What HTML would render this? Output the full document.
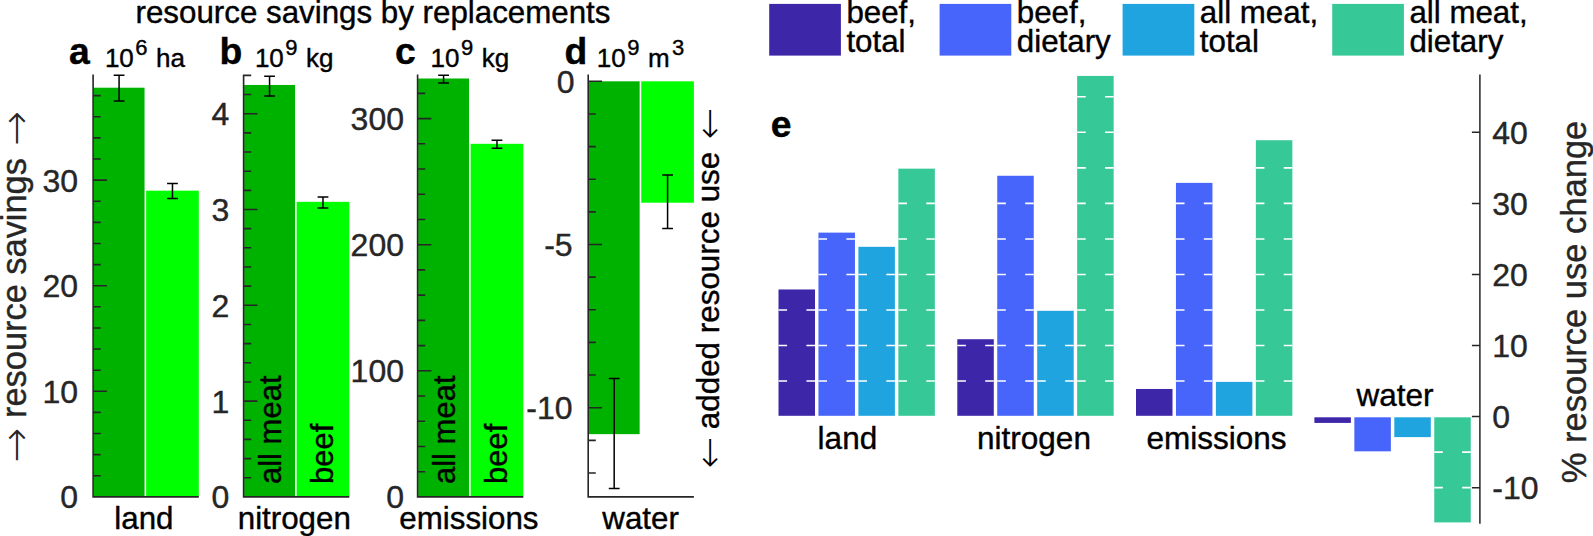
<!DOCTYPE html>
<html><head><meta charset="utf-8"><title>resource savings by replacements</title>
<style>html,body{margin:0;padding:0;background:#fff;overflow:hidden}svg{display:block}text{white-space:pre;stroke-width:0.4px;stroke-linejoin:round}text:not([stroke]){stroke:#000}</style>
</head><body>
<svg width="1593" height="536" viewBox="0 0 1593 536" font-family='"Liberation Sans", "DejaVu Sans", sans-serif'>
<rect width="1593" height="536" fill="#fff"/>
<text x="373" y="22.8" font-size="31.3" text-anchor="middle">resource savings by replacements</text>
<g id="panel-a">
<rect x="93.6" y="87.7" width="50.95" height="409.2" fill="#00B200"/>
<rect x="146.15" y="190.66" width="52.65" height="306.24" fill="#00FF00"/>
<path d="M93.1 496.9h13M93.1 475.78h6.8M93.1 454.66h6.8M93.1 433.54h6.8M93.1 412.42h6.8M93.1 391.3h13M93.1 370.18h6.8M93.1 349.06h6.8M93.1 327.94h6.8M93.1 306.82h6.8M93.1 285.7h13M93.1 264.58h6.8M93.1 243.46h6.8M93.1 222.34h6.8M93.1 201.22h6.8M93.1 180.1h13M93.1 158.98h6.8M93.1 137.86h6.8M93.1 116.74h6.8M93.1 95.62h6.8M93.1 75.3V496.9H198" stroke="#262626" stroke-width="1.6" fill="none" stroke-linecap="square"/>
<text x="78" y="508.3" font-size="32" text-anchor="end" fill="#262626" stroke="#262626">0</text>
<text x="78" y="402.7" font-size="32" text-anchor="end" fill="#262626" stroke="#262626">10</text>
<text x="78" y="297.1" font-size="32" text-anchor="end" fill="#262626" stroke="#262626">20</text>
<text x="78" y="191.5" font-size="32" text-anchor="end" fill="#262626" stroke="#262626">30</text>
<path d="M113.67 75.2H124.48M113.67 101H124.48M119.08 75.2V101" stroke="#000" stroke-width="1.5" fill="none"/>
<path d="M167.08 183.6H177.88M167.08 198.6H177.88M172.48 183.6V198.6" stroke="#000" stroke-width="1.5" fill="none"/>
</g>
<g id="panel-b">
<rect x="244.1" y="84.96" width="50.95" height="411.94" fill="#00B200"/>
<rect x="296.65" y="201.84" width="52.65" height="295.06" fill="#00FF00"/>
<path d="M243.6 496.9h13M243.6 477.74h6.8M243.6 458.58h6.8M243.6 439.42h6.8M243.6 420.26h6.8M243.6 401.1h13M243.6 381.94h6.8M243.6 362.78h6.8M243.6 343.62h6.8M243.6 324.46h6.8M243.6 305.3h13M243.6 286.14h6.8M243.6 266.98h6.8M243.6 247.82h6.8M243.6 228.66h6.8M243.6 209.5h13M243.6 190.34h6.8M243.6 171.18h6.8M243.6 152.02h6.8M243.6 132.86h6.8M243.6 113.7h13M243.6 94.54h6.8M243.6 75.38h6.8M243.6 75.3V496.9H348.5" stroke="#262626" stroke-width="1.6" fill="none" stroke-linecap="square"/>
<text x="229.3" y="508.3" font-size="32" text-anchor="end" fill="#262626" stroke="#262626">0</text>
<text x="229.3" y="412.5" font-size="32" text-anchor="end" fill="#262626" stroke="#262626">1</text>
<text x="229.3" y="316.7" font-size="32" text-anchor="end" fill="#262626" stroke="#262626">2</text>
<text x="229.3" y="220.9" font-size="32" text-anchor="end" fill="#262626" stroke="#262626">3</text>
<text x="229.3" y="125.1" font-size="32" text-anchor="end" fill="#262626" stroke="#262626">4</text>
<path d="M264.18 76.2H274.97M264.18 96H274.97M269.57 76.2V96" stroke="#000" stroke-width="1.5" fill="none"/>
<path d="M317.58 197H328.38M317.58 208H328.38M322.98 197V208" stroke="#000" stroke-width="1.5" fill="none"/>
</g>
<g id="panel-c">
<rect x="418.1" y="78.5" width="50.95" height="418.4" fill="#00B200"/>
<rect x="470.65" y="143.82" width="52.65" height="353.08" fill="#00FF00"/>
<path d="M417.6 496.9h13M417.6 471.68h6.8M417.6 446.46h6.8M417.6 421.24h6.8M417.6 396.02h6.8M417.6 370.8h13M417.6 345.58h6.8M417.6 320.36h6.8M417.6 295.14h6.8M417.6 269.92h6.8M417.6 244.7h13M417.6 219.48h6.8M417.6 194.26h6.8M417.6 169.04h6.8M417.6 143.82h6.8M417.6 118.6h13M417.6 93.38h6.8M417.6 75.3V496.9H522.5" stroke="#262626" stroke-width="1.6" fill="none" stroke-linecap="square"/>
<text x="404" y="508.3" font-size="32" text-anchor="end" fill="#262626" stroke="#262626">0</text>
<text x="404" y="382.2" font-size="32" text-anchor="end" fill="#262626" stroke="#262626">100</text>
<text x="404" y="256.1" font-size="32" text-anchor="end" fill="#262626" stroke="#262626">200</text>
<text x="404" y="130" font-size="32" text-anchor="end" fill="#262626" stroke="#262626">300</text>
<path d="M438.18 75.2H448.98M438.18 83H448.98M443.58 75.2V83" stroke="#000" stroke-width="1.5" fill="none"/>
<path d="M491.58 140.2H502.38M491.58 148.3H502.38M496.98 140.2V148.3" stroke="#000" stroke-width="1.5" fill="none"/>
</g>
<g id="panel-d">
<rect x="588.7" y="81.3" width="50.95" height="352.84" fill="#00B200"/>
<rect x="641.25" y="81.3" width="52.65" height="121.42" fill="#00FF00"/>
<path d="M588.2 472.98h6.8M588.2 440.34h6.8M588.2 407.7h13M588.2 375.06h6.8M588.2 342.42h6.8M588.2 309.78h6.8M588.2 277.14h6.8M588.2 244.5h13M588.2 211.86h6.8M588.2 179.22h6.8M588.2 146.58h6.8M588.2 113.94h6.8M588.2 81.3h13M588.2 75.3V496.9H693.1" stroke="#262626" stroke-width="1.6" fill="none" stroke-linecap="square"/>
<text x="574.6" y="92.7" font-size="32" text-anchor="end" fill="#262626" stroke="#262626">0</text>
<text x="572.6" y="255.9" font-size="32" text-anchor="end" fill="#262626" stroke="#262626">-5</text>
<text x="572.6" y="419.1" font-size="32" text-anchor="end" fill="#262626" stroke="#262626">-10</text>
<path d="M608.78 378.4H619.58M608.78 488.4H619.58M614.18 378.4V488.4" stroke="#000" stroke-width="1.5" fill="none"/>
<path d="M662.18 175H672.98M662.18 228.6H672.98M667.58 175V228.6" stroke="#000" stroke-width="1.5" fill="none"/>
</g>
<text x="69" y="64.4" font-size="37.3" font-weight="bold">a</text>
<text x="219.4" y="64.4" font-size="37.3" font-weight="bold">b</text>
<text x="394.9" y="64.4" font-size="37.3" font-weight="bold">c</text>
<text x="564.4" y="64.4" font-size="37.3" font-weight="bold">d</text>
<text x="770.8" y="136.5" font-size="37.3" font-weight="bold">e</text>
<text x="104.9" y="67" font-size="26">10<tspan x="135.3" dy="-12.3" font-size="22">6</tspan><tspan x="148.8" dy="12.3"> ha</tspan></text>
<text x="254.9" y="67" font-size="26">10<tspan x="285.3" dy="-12.3" font-size="22">9</tspan><tspan x="298.8" dy="12.3"> kg</tspan></text>
<text x="430.6" y="67" font-size="26">10<tspan x="461" dy="-12.3" font-size="22">9</tspan><tspan x="474.5" dy="12.3"> kg</tspan></text>
<text x="596.8" y="67" font-size="26">10<tspan x="627.2" dy="-12.3" font-size="22">9</tspan><tspan x="640.7" dy="12.3"> m</tspan><tspan dx="2.4" dy="-12.3" font-size="22">3</tspan></text>
<text x="143.9" y="528.6" font-size="31.3" text-anchor="middle">land</text>
<text x="294.3" y="528.6" font-size="31.3" text-anchor="middle">nitrogen</text>
<text x="468.9" y="528.6" font-size="31.3" text-anchor="middle">emissions</text>
<text x="640.6" y="528.6" font-size="31.3" text-anchor="middle">water</text>
<text x="280.6" y="484" font-size="31" transform="rotate(-90 280.6 484)">all meat</text>
<text x="333.2" y="484" font-size="31" transform="rotate(-90 333.2 484)">beef</text>
<text x="454.6" y="484" font-size="31" transform="rotate(-90 454.6 484)">all meat</text>
<text x="507.2" y="484" font-size="31" transform="rotate(-90 507.2 484)">beef</text>
<text transform="translate(26.1 460.4) rotate(-90)" font-size="34.4" fill="#262626" stroke="#262626"><tspan x="-2.37" y="3.8" font-family="DejaVu Sans, sans-serif" font-weight="200" font-size="41.5" stroke="none">→</tspan><tspan x="32.84" y="0"> resource savings </tspan><tspan x="314.3" y="3.8" font-family="DejaVu Sans, sans-serif" font-weight="200" font-size="41.5" stroke="none">→</tspan></text>
<text transform="translate(719.1 466.4) rotate(-90)" font-size="31.4" fill="#000" stroke="#000"><tspan x="-1.83" y="3" font-family="DejaVu Sans, sans-serif" font-weight="200" font-size="37.4" stroke="none">←</tspan><tspan x="28.47" y="0"> added resource use </tspan><tspan x="327.1" y="3" font-family="DejaVu Sans, sans-serif" font-weight="200" font-size="37.4" stroke="none">←</tspan></text>
<text x="1585.8" y="483.2" font-size="34.5" transform="rotate(-90 1585.8 483.2)" fill="#262626" stroke="#262626">% resource use change</text>
<rect x="769.2" y="3.9" width="71.7" height="51.7" fill="#3E26A8"/>
<text x="846.4" y="22.6" font-size="31.3">beef,</text>
<text x="846.4" y="51.9" font-size="31.3">total</text>
<rect x="939.6" y="3.9" width="71.7" height="51.7" fill="#4764FB"/>
<text x="1016.8" y="22.6" font-size="31.3">beef,</text>
<text x="1016.8" y="51.9" font-size="31.3">dietary</text>
<rect x="1122.6" y="3.9" width="71.7" height="51.7" fill="#20A4DF"/>
<text x="1199.8" y="22.6" font-size="31.3">all meat,</text>
<text x="1199.8" y="51.9" font-size="31.3">total</text>
<rect x="1332.2" y="3.9" width="71.7" height="51.7" fill="#37C897"/>
<text x="1409.4" y="22.6" font-size="31.3">all meat,</text>
<text x="1409.4" y="51.9" font-size="31.3">dietary</text>
<g id="panel-e">
<rect x="778.5" y="289.47" width="36.5" height="126.33" fill="#3E26A8"/>
<path d="M778.5 381.06h8.6M815 381.06h-8.6M778.5 345.53h8.6M815 345.53h-8.6M778.5 310h8.6M815 310h-8.6" stroke="#fff" stroke-width="1.6" fill="none"/>
<rect x="818.45" y="232.62" width="36.5" height="183.18" fill="#4764FB"/>
<path d="M818.45 381.06h8.6M854.95 381.06h-8.6M818.45 345.53h8.6M854.95 345.53h-8.6M818.45 310h8.6M854.95 310h-8.6M818.45 274.46h8.6M854.95 274.46h-8.6M818.45 238.93h8.6M854.95 238.93h-8.6" stroke="#fff" stroke-width="1.6" fill="none"/>
<rect x="858.4" y="246.83" width="36.5" height="168.97" fill="#20A4DF"/>
<path d="M858.4 381.06h8.6M894.9 381.06h-8.6M858.4 345.53h8.6M894.9 345.53h-8.6M858.4 310h8.6M894.9 310h-8.6M858.4 274.46h8.6M894.9 274.46h-8.6" stroke="#fff" stroke-width="1.6" fill="none"/>
<rect x="898.35" y="168.66" width="36.5" height="247.14" fill="#37C897"/>
<path d="M898.35 381.06h8.6M934.85 381.06h-8.6M898.35 345.53h8.6M934.85 345.53h-8.6M898.35 310h8.6M934.85 310h-8.6M898.35 274.46h8.6M934.85 274.46h-8.6M898.35 238.93h8.6M934.85 238.93h-8.6M898.35 203.39h8.6M934.85 203.39h-8.6" stroke="#fff" stroke-width="1.6" fill="none"/>
<text x="847.4" y="449" font-size="31.5" text-anchor="middle">land</text>
<rect x="957.3" y="339.22" width="36.5" height="76.58" fill="#3E26A8"/>
<path d="M957.3 381.06h8.6M993.8 381.06h-8.6M957.3 345.53h8.6M993.8 345.53h-8.6" stroke="#fff" stroke-width="1.6" fill="none"/>
<rect x="997.25" y="175.76" width="36.5" height="240.04" fill="#4764FB"/>
<path d="M997.25 381.06h8.6M1033.75 381.06h-8.6M997.25 345.53h8.6M1033.75 345.53h-8.6M997.25 310h8.6M1033.75 310h-8.6M997.25 274.46h8.6M1033.75 274.46h-8.6M997.25 238.93h8.6M1033.75 238.93h-8.6M997.25 203.39h8.6M1033.75 203.39h-8.6" stroke="#fff" stroke-width="1.6" fill="none"/>
<rect x="1037.2" y="310.8" width="36.5" height="105" fill="#20A4DF"/>
<path d="M1037.2 381.06h8.6M1073.7 381.06h-8.6M1037.2 345.53h8.6M1073.7 345.53h-8.6" stroke="#fff" stroke-width="1.6" fill="none"/>
<rect x="1077.15" y="75.91" width="36.5" height="339.89" fill="#37C897"/>
<path d="M1077.15 381.06h8.6M1113.65 381.06h-8.6M1077.15 345.53h8.6M1113.65 345.53h-8.6M1077.15 310h8.6M1113.65 310h-8.6M1077.15 274.46h8.6M1113.65 274.46h-8.6M1077.15 238.93h8.6M1113.65 238.93h-8.6M1077.15 203.39h8.6M1113.65 203.39h-8.6M1077.15 167.86h8.6M1113.65 167.86h-8.6M1077.15 132.32h8.6M1113.65 132.32h-8.6M1077.15 96.79h8.6M1113.65 96.79h-8.6" stroke="#fff" stroke-width="1.6" fill="none"/>
<text x="1034" y="449" font-size="31.5" text-anchor="middle">nitrogen</text>
<rect x="1136" y="388.97" width="36.5" height="26.83" fill="#3E26A8"/>
<rect x="1175.95" y="182.87" width="36.5" height="232.93" fill="#4764FB"/>
<path d="M1175.95 381.06h8.6M1212.45 381.06h-8.6M1175.95 345.53h8.6M1212.45 345.53h-8.6M1175.95 310h8.6M1212.45 310h-8.6M1175.95 274.46h8.6M1212.45 274.46h-8.6M1175.95 238.93h8.6M1212.45 238.93h-8.6M1175.95 203.39h8.6M1212.45 203.39h-8.6" stroke="#fff" stroke-width="1.6" fill="none"/>
<rect x="1215.9" y="381.87" width="36.5" height="33.94" fill="#20A4DF"/>
<rect x="1255.85" y="140.23" width="36.5" height="275.57" fill="#37C897"/>
<path d="M1255.85 381.06h8.6M1292.35 381.06h-8.6M1255.85 345.53h8.6M1292.35 345.53h-8.6M1255.85 310h8.6M1292.35 310h-8.6M1255.85 274.46h8.6M1292.35 274.46h-8.6M1255.85 238.93h8.6M1292.35 238.93h-8.6M1255.85 203.39h8.6M1292.35 203.39h-8.6M1255.85 167.86h8.6M1292.35 167.86h-8.6" stroke="#fff" stroke-width="1.6" fill="none"/>
<text x="1216.5" y="449" font-size="31.5" text-anchor="middle">emissions</text>
<rect x="1314.4" y="417.3" width="36.5" height="5.61" fill="#3E26A8"/>
<rect x="1354.35" y="417.3" width="36.5" height="34.04" fill="#4764FB"/>
<rect x="1394.3" y="417.3" width="36.5" height="19.82" fill="#20A4DF"/>
<rect x="1434.25" y="417.3" width="36.5" height="105.11" fill="#37C897"/>
<path d="M1434.25 452.14h8.6M1470.75 452.14h-8.6M1434.25 487.67h8.6M1470.75 487.67h-8.6" stroke="#fff" stroke-width="1.6" fill="none"/>
<text x="1395" y="405.7" font-size="31.5" text-anchor="middle">water</text>
<path d="M1479.9 74.5V523.8M1479.9 487.67h-8M1479.9 416.6h-8M1479.9 345.53h-8M1479.9 274.46h-8M1479.9 203.39h-8M1479.9 132.32h-8" stroke="#262626" stroke-width="1.5" fill="none"/>
<text x="1492.3" y="499.07" font-size="32" fill="#262626" stroke="#262626">-10</text>
<text x="1492.3" y="428" font-size="32" fill="#262626" stroke="#262626">0</text>
<text x="1492.3" y="356.93" font-size="32" fill="#262626" stroke="#262626">10</text>
<text x="1492.3" y="285.86" font-size="32" fill="#262626" stroke="#262626">20</text>
<text x="1492.3" y="214.79" font-size="32" fill="#262626" stroke="#262626">30</text>
<text x="1492.3" y="143.72" font-size="32" fill="#262626" stroke="#262626">40</text>
</g>
</svg>
</body></html>
